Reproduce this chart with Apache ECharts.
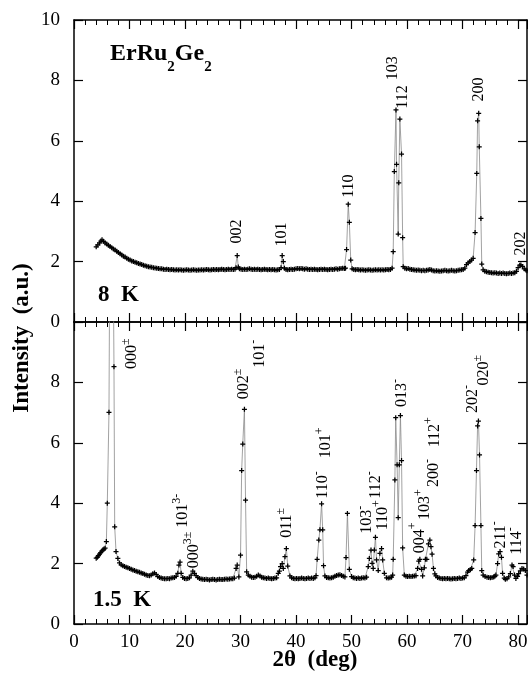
<!DOCTYPE html>
<html><head><meta charset="utf-8">
<script src="https://cdn.jsdelivr.net/npm/echarts@6/dist/echarts.min.js"></script>
<style>html,body{margin:0;padding:0;background:#fff}#c{width:528px;height:677px}</style>
</head><body><div id="c"></div>
<script>
// ---------- data (2θ in deg, intensity in a.u.) ----------
const xTickValues = [0, 10, 20, 30, 40, 50, 60, 70, 80];
const yTickValues = [0, 2, 4, 6, 8, 10];

const data8K = [
[4.0,2.49],[4.3,2.55],[4.6,2.62],[4.85,2.68],[5.05,2.72],[5.3,2.67],[5.6,2.62],[5.9,2.58],[6.2,2.54],[6.5,2.5],
[6.8,2.46],[7.1,2.42],[7.4,2.38],[7.7,2.34],[8.0,2.3],[8.3,2.26],[8.6,2.22],[8.9,2.18],[9.2,2.15],[9.5,2.11],
[9.8,2.08],[10.1,2.05],[10.4,2.02],[10.7,2.0],[11.0,1.98],[11.3,1.96],[11.6,1.94],[11.9,1.92],[12.2,1.9],[12.5,1.88],
[12.8,1.86],[13.1,1.85],[13.4,1.83],[13.7,1.82],[14.0,1.81],[14.3,1.8],[14.6,1.79],[14.9,1.78],[15.2,1.77],[15.5,1.76],
[15.8,1.76],[16.1,1.75],[16.4,1.74],[16.7,1.75],[17.0,1.74],[17.3,1.73],[17.6,1.74],[17.9,1.73],[18.2,1.72],[18.5,1.73],
[18.8,1.72],[19.1,1.73],[19.4,1.72],[19.7,1.71],[20.0,1.72],[20.3,1.73],[20.6,1.72],[20.9,1.71],[21.2,1.72],[21.5,1.73],
[21.8,1.72],[22.1,1.71],[22.4,1.72],[22.7,1.72],[23.0,1.73],[23.3,1.72],[23.6,1.73],[23.9,1.74],[24.2,1.73],[24.5,1.72],
[24.8,1.73],[25.1,1.74],[25.4,1.73],[25.7,1.74],[26.0,1.73],[26.3,1.74],[26.6,1.75],[26.9,1.74],[27.2,1.73],[27.5,1.74],
[27.8,1.75],[28.1,1.74],[28.4,1.75],[28.7,1.74],[29.0,1.75],[29.2,1.8],[29.4,2.2],[29.6,1.82],[29.8,1.76],[30.1,1.75],
[30.4,1.74],[30.7,1.75],[31.0,1.74],[31.3,1.75],[31.6,1.76],[31.9,1.75],[32.2,1.74],[32.5,1.75],[32.8,1.74],[33.1,1.75],
[33.4,1.74],[33.7,1.73],[34.0,1.74],[34.3,1.75],[34.6,1.74],[34.9,1.73],[35.2,1.74],[35.5,1.73],[35.8,1.74],[36.1,1.73],
[36.4,1.72],[36.7,1.73],[37.0,1.74],[37.3,1.8],[37.5,2.2],[37.7,2.0],[37.9,1.78],[38.2,1.74],[38.5,1.73],[38.8,1.74],
[39.1,1.75],[39.4,1.74],[39.7,1.75],[40.0,1.76],[40.3,1.77],[40.6,1.76],[40.9,1.77],[41.2,1.76],[41.5,1.75],[41.8,1.76],
[42.1,1.75],[42.4,1.74],[42.7,1.75],[43.0,1.74],[43.3,1.75],[43.6,1.74],[43.9,1.73],[44.2,1.74],[44.5,1.75],[44.8,1.74],
[45.1,1.75],[45.4,1.74],[45.7,1.73],[46.0,1.74],[46.3,1.75],[46.6,1.74],[46.9,1.75],[47.2,1.76],[47.5,1.75],[47.8,1.76],
[48.1,1.77],[48.4,1.78],[48.7,1.77],[48.9,1.78],[49.1,2.4],[49.4,3.9],[49.6,3.3],[49.85,2.05],[50.1,1.76],[50.4,1.74],
[50.7,1.73],[51.0,1.74],[51.3,1.73],[51.6,1.72],[51.9,1.73],[52.2,1.72],[52.5,1.71],[52.8,1.72],[53.1,1.73],[53.4,1.72],
[53.7,1.71],[54.0,1.72],[54.3,1.73],[54.6,1.72],[54.9,1.73],[55.2,1.72],[55.5,1.73],[55.8,1.72],[56.1,1.73],[56.4,1.74],
[56.7,1.73],[57.0,1.74],[57.3,1.78],[57.5,2.33],[57.7,4.98],[58.0,7.02],[58.1,5.22],[58.4,2.91],[58.5,4.61],[58.7,6.72],
[59.0,5.56],[59.2,2.79],[59.3,1.83],[59.6,1.78],[59.9,1.76],[60.2,1.77],[60.5,1.75],[60.8,1.74],[61.1,1.73],[61.4,1.72],
[61.7,1.71],[62.0,1.72],[62.3,1.71],[62.6,1.7],[62.9,1.71],[63.2,1.7],[63.5,1.71],[63.8,1.72],[64.1,1.74],[64.4,1.72],
[64.7,1.7],[65.0,1.69],[65.3,1.7],[65.6,1.69],[65.9,1.68],[66.2,1.69],[66.5,1.7],[66.8,1.71],[67.1,1.7],[67.4,1.69],
[67.7,1.7],[68.0,1.71],[68.3,1.7],[68.6,1.69],[68.9,1.7],[69.2,1.71],[69.5,1.72],[69.8,1.73],[70.1,1.74],[70.4,1.78],
[70.7,1.9],[71.0,1.96],[71.3,2.0],[71.6,2.05],[71.9,2.11],[72.25,2.96],[72.55,4.92],[72.7,6.66],[72.9,6.91],[73.0,5.8],
[73.3,3.43],[73.45,1.92],[73.7,1.73],[74.0,1.68],[74.3,1.66],[74.6,1.65],[74.9,1.64],[75.2,1.63],[75.5,1.62],[75.8,1.63],
[76.1,1.62],[76.4,1.61],[76.7,1.62],[77.0,1.61],[77.3,1.62],[77.6,1.61],[77.9,1.6],[78.2,1.61],[78.5,1.62],[78.8,1.61],
[79.1,1.62],[79.4,1.63],[79.7,1.68],[80.0,1.8],[80.3,1.88],[80.5,1.89],[80.8,1.84],[81.1,1.76],[81.4,1.72],[81.6,1.7]
];

const data15K = [
[4.0,2.18],[4.2,2.21],[4.4,2.26],[4.6,2.31],[4.8,2.36],[5.0,2.41],[5.2,2.45],[5.4,2.48],[5.6,2.51],[5.83,2.73],
[6.0,4.0],[6.3,7.01],[6.7,22.0],[7.2,8.52],[7.33,3.22],[7.57,2.4],[7.9,2.17],[8.2,2.02],[8.5,1.96],[8.8,1.93],
[9.1,1.9],[9.4,1.88],[9.7,1.86],[10.0,1.84],[10.3,1.81],[10.6,1.79],[10.9,1.77],[11.2,1.75],[11.5,1.73],[11.8,1.71],
[12.1,1.69],[12.4,1.67],[12.7,1.65],[13.0,1.62],[13.3,1.61],[13.6,1.6],[13.9,1.62],[14.2,1.66],[14.5,1.69],[14.8,1.64],
[15.1,1.57],[15.4,1.54],[15.7,1.52],[16.0,1.51],[16.3,1.5],[16.6,1.5],[16.9,1.51],[17.2,1.5],[17.5,1.52],[17.8,1.53],
[18.1,1.54],[18.4,1.58],[18.7,1.68],[18.9,1.95],[19.1,2.05],[19.3,1.68],[19.6,1.54],[19.9,1.51],[20.2,1.5],[20.5,1.51],
[20.8,1.53],[21.1,1.62],[21.4,1.75],[21.7,1.68],[22.0,1.6],[22.3,1.54],[22.6,1.51],[22.9,1.49],[23.2,1.48],[23.5,1.47],
[23.8,1.48],[24.1,1.47],[24.4,1.46],[24.7,1.47],[25.0,1.48],[25.3,1.47],[25.6,1.46],[25.9,1.47],[26.2,1.48],[26.5,1.47],
[26.8,1.47],[27.1,1.48],[27.4,1.49],[27.7,1.48],[28.0,1.49],[28.3,1.5],[28.6,1.5],[28.9,1.52],[29.2,1.84],[29.4,1.95],
[29.7,1.56],[30.0,2.28],[30.2,5.08],[30.4,5.96],[30.7,7.11],[30.9,4.1],[31.1,1.73],[31.4,1.62],[31.7,1.58],[32.0,1.55],
[32.3,1.54],[32.6,1.55],[32.9,1.58],[33.2,1.62],[33.5,1.59],[33.8,1.55],[34.1,1.53],[34.4,1.52],[34.7,1.51],[35.0,1.52],
[35.3,1.51],[35.6,1.5],[35.9,1.51],[36.2,1.52],[36.5,1.53],[36.8,1.68],[37.0,1.75],[37.2,1.9],[37.5,2.0],[37.7,1.84],
[38.0,2.23],[38.25,2.5],[38.5,1.92],[38.9,1.59],[39.2,1.53],[39.5,1.51],[39.8,1.5],[40.1,1.51],[40.4,1.5],[40.7,1.51],
[41.0,1.52],[41.3,1.51],[41.6,1.5],[41.9,1.51],[42.2,1.52],[42.5,1.51],[42.8,1.52],[43.1,1.51],[43.4,1.53],[43.6,1.6],
[43.8,2.14],[44.1,2.78],[44.3,3.12],[44.6,3.98],[44.8,3.12],[44.95,1.93],[45.2,1.59],[45.5,1.54],[45.8,1.53],[46.1,1.52],
[46.4,1.53],[46.7,1.55],[47.0,1.58],[47.3,1.61],[47.6,1.62],[47.9,1.63],[48.2,1.61],[48.5,1.58],[48.8,1.56],[49.0,2.2],
[49.25,3.66],[49.6,1.81],[50.0,1.57],[50.3,1.53],[50.6,1.52],[50.9,1.51],[51.2,1.52],[51.5,1.51],[51.8,1.52],[52.1,1.53],
[52.4,1.52],[52.7,1.55],[53.0,1.9],[53.2,2.17],[53.5,2.45],[53.7,2.01],[53.9,1.84],[54.1,2.45],[54.3,2.87],[54.5,2.12],
[54.8,1.77],[55.1,2.34],[55.4,2.5],[55.6,2.12],[55.9,1.68],[56.3,1.53],[56.6,1.52],[56.9,1.53],[57.2,1.55],[57.4,1.62],
[57.5,2.14],[57.8,4.77],[57.95,6.83],[58.2,5.27],[58.4,3.52],[58.6,5.27],[58.8,6.9],[59.0,5.41],[59.2,2.52],[59.5,1.62],
[59.8,1.58],[60.1,1.57],[60.4,1.58],[60.7,1.57],[61.0,1.58],[61.3,1.59],[61.6,1.6],[61.9,1.84],[62.1,2.08],[62.3,2.14],
[62.6,1.81],[62.8,1.59],[63.1,1.86],[63.3,2.14],[63.55,2.14],[63.85,2.65],[64.1,2.78],[64.3,2.56],[64.5,2.31],[64.75,1.84],
[65.0,1.66],[65.2,1.59],[65.5,1.54],[65.8,1.52],[66.1,1.51],[66.4,1.5],[66.7,1.51],[67.0,1.5],[67.3,1.51],[67.6,1.5],
[67.9,1.49],[68.2,1.5],[68.5,1.51],[68.8,1.5],[69.1,1.51],[69.4,1.52],[69.7,1.51],[70.0,1.52],[70.3,1.53],[70.6,1.6],
[70.9,1.72],[71.1,1.77],[71.4,1.8],[71.65,1.84],[72.0,2.12],[72.25,3.26],[72.5,5.08],[72.7,6.56],[72.85,6.72],[73.05,5.6],
[73.3,3.26],[73.45,1.77],[73.7,1.62],[74.05,1.57],[74.4,1.55],[74.7,1.54],[75.0,1.53],[75.3,1.54],[75.6,1.56],[75.8,1.58],
[76.0,1.62],[76.3,2.0],[76.5,2.32],[76.75,2.4],[77.0,2.21],[77.2,1.68],[77.5,1.52],[77.7,1.48],[78.0,1.5],[78.3,1.56],
[78.6,1.67],[78.9,1.95],[79.1,1.9],[79.35,1.62],[79.6,1.51],[79.9,1.58],[80.1,1.67],[80.4,1.76],[80.7,1.84],[81.0,1.82],
[81.3,1.77],[81.6,1.62]
];

// peak annotations: [hkl, superscript, 2θ anchor, intensity anchor]
const peakLabels8K = [
["002","",29.4,3.0],["101","",37.5,2.9],["110","",49.5,4.5],["103","",57.4,8.4],
["112","",59.3,7.45],["200","",72.85,7.7],["202","",80.4,2.6]
];
const peakLabels15K = [
["000","±",10.4,8.95],["002","±",30.6,7.95],["101","-",33.5,8.95],["101","3-",19.6,3.75],
["000","3±",21.6,2.45],["011","±",38.4,3.35],["110","-",44.9,4.6],["101","+",45.4,6.0],
["103","-",52.7,3.45],["112","-",54.4,4.6],["110","+",55.7,3.6],["013","-",59.0,7.65],
["004","+",62.2,2.85],["103","+",63.2,3.95],["200","-",64.9,5.0],["112","+",65.0,6.35],
["202","-",71.8,7.45],["020","±",73.9,8.4],["211","-",76.8,2.95],["114","-",79.8,2.75]
];
const X_MIN = 0, X_MAX = 81.6, Y_MIN = 0, Y_MAX = 10;

// ---------- chart ----------
const SERIF = '"Liberation Serif","Times New Roman",serif';
const PLUS = 'path://M3,0H5V3H8V5H5V8H3V5H0V3H3Z';
const chart = echarts.init(document.getElementById('c'), null, {renderer: 'canvas'});

function xAx(grid, pos, showLab) {
  return {
    type: 'value', gridIndex: grid, position: pos, min: X_MIN, max: X_MAX,
    interval: xTickValues[1] - xTickValues[0],
    axisLine: {show: true, onZero: false, lineStyle: {color: '#000', width: 1.5}},
    axisTick: {show: true, inside: true, length: 9, lineStyle: {color: '#000', width: 1.2}},
    minorTick: {show: true, splitNumber: 5, length: 5, lineStyle: {color: '#000', width: 1}},
    splitLine: {show: false}, minorSplitLine: {show: false},
    axisLabel: {show: showLab, color: '#000', fontFamily: SERIF, fontSize: 19, margin: 9,
      showMaxLabel: false,
      formatter: v => (xTickValues.indexOf(v) >= 0 ? String(v) : '')}
  };
}
function yAx(grid, pos, showLab, showMax) {
  return {
    type: 'value', gridIndex: grid, position: pos, min: Y_MIN, max: Y_MAX,
    interval: yTickValues[1] - yTickValues[0],
    axisLine: {show: true, onZero: false, lineStyle: {color: '#000', width: 1.5}},
    axisTick: {show: true, inside: true, length: 9, lineStyle: {color: '#000', width: 1.2}},
    splitLine: {show: false},
    axisLabel: {show: showLab, color: '#000', fontFamily: SERIF, fontSize: 19, margin: 14,
      showMaxLabel: showMax, showMinLabel: true}
  };
}
function lineSeries(data, gi) {
  return {
    type: 'line', xAxisIndex: gi * 2, yAxisIndex: gi * 2, data: data,
    symbol: PLUS, symbolSize: 5, showAllSymbol: true, clip: true, silent: true,
    lineStyle: {color: '#8a8a8a', width: 0.8}, itemStyle: {color: '#000'},
    emphasis: {disabled: true}
  };
}

chart.setOption({
  animation: false,
  backgroundColor: '#fff',
  grid: [
    {left: 74, top: 20, width: 453, height: 302, outerBoundsMode: 'none'},
    {left: 74, top: 322, width: 453, height: 302, outerBoundsMode: 'none'}
  ],
  xAxis: [xAx(0, 'bottom', false), xAx(0, 'top', false), xAx(1, 'bottom', true), xAx(1, 'top', false)],
  yAxis: [yAx(0, 'left', true, true), yAx(0, 'right', false, true), yAx(1, 'left', true, false), yAx(1, 'right', false, false)],
  series: [lineSeries(data8K, 0), lineSeries(data15K, 1)]
});

// superscripts: main token centred in a tall line, the small token pinned to its top
const peakRich = {
  m: {fontSize: 16, fontFamily: SERIF, color: '#000', lineHeight: 24, verticalAlign: 'middle'},
  s: {fontSize: 12, fontFamily: SERIF, color: '#000', lineHeight: 12, verticalAlign: 'top'}
};
function peakGraphics(arr, gi) {
  return arr.map(([t, s, x, y]) => {
    const p = chart.convertToPixel({xAxisIndex: gi * 2, yAxisIndex: gi * 2}, [x, y]);
    return {
      type: 'text', x: p[0], y: p[1], rotation: Math.PI / 2, silent: true,
      style: {text: s ? '{m|' + t + '}{s|' + s + '}' : '{m|' + t + '}', rich: peakRich,
        align: 'center', verticalAlign: 'middle'}
    };
  });
}

const bold = {fontFamily: SERIF, fontWeight: 'bold', fill: '#000'};
const graphics = [].concat(peakGraphics(peakLabels8K, 0), peakGraphics(peakLabels15K, 1), [
  {type: 'text', left: 110, top: 42, silent: true,
    style: {text: '{b|ErRu}{u|2}{b|Ge}{u|2}',
      rich: {b: {fontSize: 24, fontFamily: SERIF, fontWeight: 'bold', color: '#000', lineHeight: 24, verticalAlign: 'top'},
             u: {fontSize: 15, fontFamily: SERIF, fontWeight: 'bold', color: '#000', lineHeight: 33, verticalAlign: 'bottom'}}}},
  {type: 'text', x: 98, y: 295, silent: true,
    style: Object.assign({text: '8  K', fontSize: 23, align: 'left', verticalAlign: 'middle'}, bold)},
  {type: 'text', x: 93, y: 600, silent: true,
    style: Object.assign({text: '1.5  K', fontSize: 23, align: 'left', verticalAlign: 'middle'}, bold)},
  {type: 'text', x: 22, y: 338, rotation: Math.PI / 2, silent: true,
    style: Object.assign({text: 'Intensity  (a.u.)', fontSize: 23, align: 'center', verticalAlign: 'middle'}, bold)},
  {type: 'text', x: 315, y: 660, silent: true,
    style: Object.assign({text: '2θ  (deg)', fontSize: 23, align: 'center', verticalAlign: 'middle'}, bold)}
]);
chart.setOption({graphic: graphics});
</script>
</body></html>
